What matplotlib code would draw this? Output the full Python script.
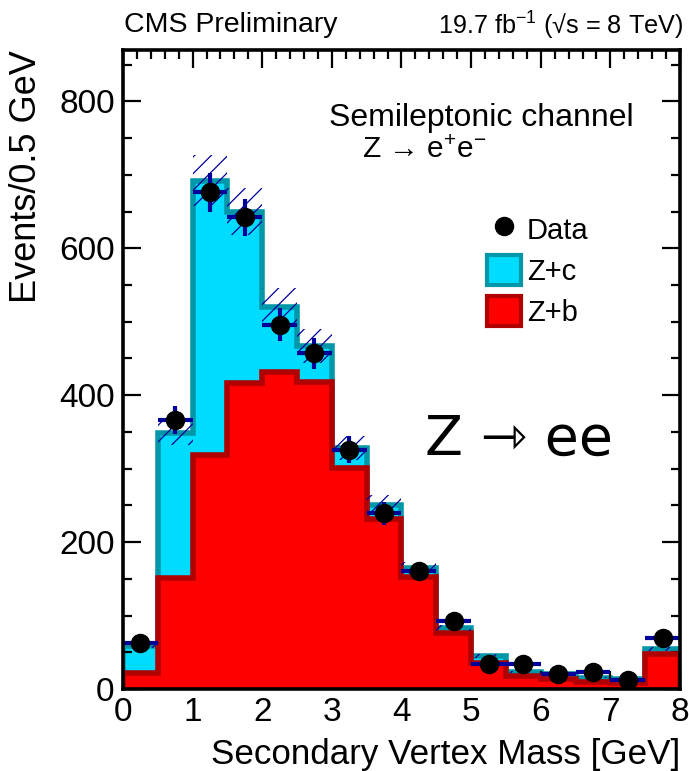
import numpy as np
import matplotlib
matplotlib.use("Agg")
import matplotlib.pyplot as plt
from matplotlib.ticker import MultipleLocator
from matplotlib.lines import Line2D
from matplotlib.patches import Patch

plt.rcParams['font.family'] = ['Liberation Sans', 'DejaVu Sans']
plt.rcParams['mathtext.fontset'] = 'custom'
plt.rcParams['mathtext.rm'] = 'Liberation Sans'
plt.rcParams['mathtext.it'] = 'Liberation Sans'
plt.rcParams['hatch.linewidth'] = 0.9

# 16 bins of 0.5 GeV in secondary vertex mass
edges = np.arange(0, 8.01, 0.5)
zb = [22, 151, 318, 416, 431, 418, 301, 231, 153, 76, 36, 18, 13, 10, 8, 48]
stack_total = [59, 349, 692, 650, 520, 467, 328, 251, 165, 83, 45, 23, 20, 15, 13, 55]
data = [63, 366, 676, 642, 496, 457, 326, 239, 160, 92, 34, 34, 20, 23, 12, 70]
syst_frac = 0.05

centers = 0.5 * (edges[:-1] + edges[1:])
zb = np.array(zb, dtype=float)
stack_total = np.array(stack_total, dtype=float)
data = np.array(data, dtype=float)

cyan, cyan_edge = '#00DCFF', '#0098A8'
red, red_edge = '#FF0000', '#B00000'
navy = '#00009A'

fig = plt.figure(figsize=(6.89, 7.71), dpi=100)
ax = fig.add_axes([0.1785, 0.1064, 0.8084, 0.8288])

ax.stairs(stack_total, edges, fill=True, facecolor=cyan, edgecolor=cyan_edge, lw=4, zorder=1)
ax.stairs(zb, edges, fill=True, facecolor=red, edgecolor=red_edge, lw=4, zorder=2)

# systematic band on the total
unc = stack_total * syst_frac
ax.bar(centers, 2 * unc, bottom=stack_total - unc, width=0.5, fill=False,
       hatch='//', edgecolor=navy, linewidth=0, zorder=3)

ax.errorbar(centers, data, xerr=0.25, yerr=np.sqrt(data), fmt='none',
            ecolor=navy, elinewidth=3, capsize=0, zorder=4)
ax.plot(centers, data, 'o', color='black', ms=13, zorder=5)

ax.set_xlim(0, 8)
ax.set_ylim(0, 870)
ax.xaxis.set_major_locator(MultipleLocator(1))
ax.xaxis.set_minor_locator(MultipleLocator(0.2))
ax.yaxis.set_major_locator(MultipleLocator(200))
ax.yaxis.set_minor_locator(MultipleLocator(50))
ax.tick_params(which='both', direction='in', top=True, right=True, width=1.6)
ax.tick_params(which='major', length=13, labelsize=24, pad=6)
ax.tick_params(which='minor', length=6.5)
for s in ax.spines.values():
    s.set_linewidth(2.6)
    s.set_zorder(10)

ax.set_xlabel('Secondary Vertex Mass [GeV]', fontsize=25.2, loc='right', labelpad=7)
ax.set_ylabel('Events/0.5 GeV', fontsize=26, loc='top', labelpad=11)

fig.text(0.18, 0.967, 'CMS Preliminary', fontsize=20.5, va='center')
fig.text(0.992, 0.967, '19.7 fb$^{-1}$ (√s = 8 TeV)', fontsize=18.2,
         va='center', ha='right')

ax.text(0.916, 0.894, 'Semileptonic channel', transform=ax.transAxes,
        fontsize=23, ha='right', va='center')
ax.text(0.43, 0.843, 'Z → e$^{+}$e$^{-}$', transform=ax.transAxes,
        fontsize=21.5, ha='left', va='center')
ax.text(0.542, 0.39, 'Z ⇾ ee', transform=ax.transAxes, family='DejaVu Sans',
        fontsize=40, ha='left', va='center')

handles = [
    Line2D([], [], marker='o', color='black', ls='none', ms=13),
    Patch(facecolor=cyan, edgecolor=cyan_edge, lw=3),
    Patch(facecolor=red, edgecolor=red_edge, lw=3),
]
ax.legend(handles, ['Data', 'Z+c', 'Z+b'], loc='upper left',
          bbox_to_anchor=(0.628, 0.766), frameon=False, fontsize=21,
          handlelength=1.15, handleheight=1.2, handletextpad=0.2,
          labelspacing=0.35, borderpad=0)

fig.savefig('out.png', dpi=100)
